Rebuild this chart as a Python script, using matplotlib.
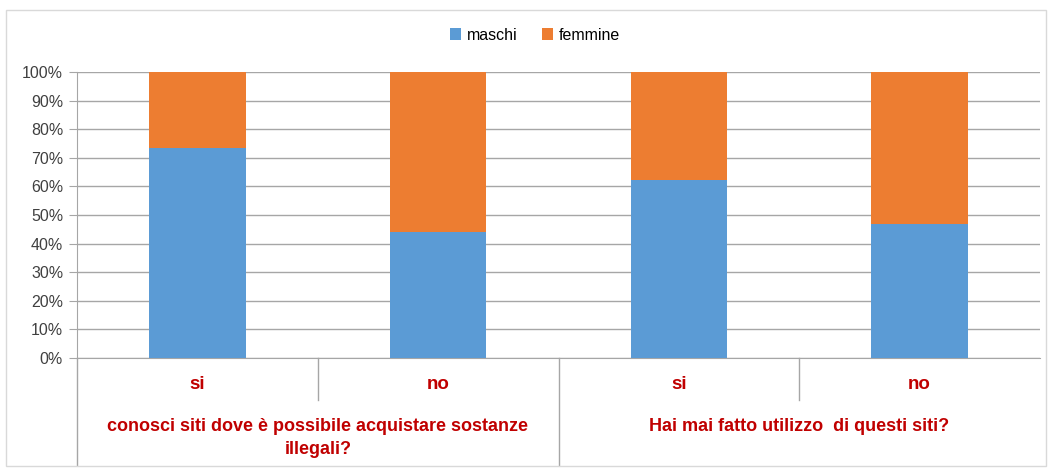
import matplotlib.pyplot as plt
from matplotlib.patches import Rectangle
import numpy as np

categories = ["si", "no", "si", "no"]
groups = ["conosci siti dove è possibile acquistare sostanze\nillegali?",
          "Hai mai fatto utilizzo  di questi siti?"]
maschi = [73.3, 44.1, 62.2, 47.0]
femmine = [100 - v for v in maschi]

plt.rcParams['font.family'] = ['Liberation Sans', 'DejaVu Sans']

blue = "#5B9BD5"
orange = "#ED7D31"
red = "#C00000"
grid_c = "#A6A6A6"

fig = plt.figure(figsize=(10.5, 4.7), dpi=100)
ax = fig.add_axes([77 / 1050, 112 / 470, 963 / 1050, 286 / 470])

x = np.arange(len(categories))
ax.bar(x, maschi, width=0.4, color=blue, label="maschi", zorder=3)
ax.bar(x, femmine, width=0.4, bottom=maschi, color=orange, label="femmine", zorder=3)

ax.set_xlim(-0.5, len(categories) - 0.5)
ax.set_ylim(0, 100)
ax.set_yticks(np.arange(0, 101, 10))
ax.set_yticklabels([f"{v}%" for v in range(0, 101, 10)], fontsize=11.5, color="#404040")
ax.yaxis.grid(True, color=grid_c, lw=1, zorder=0)
ax.tick_params(axis='y', length=6, color=grid_c, pad=4)
ax.set_xticks([])
for s in ["top", "right"]:
    ax.spines[s].set_visible(False)
ax.spines["left"].set_color(grid_c)
ax.spines["bottom"].set_color(grid_c)

# category axis lines and labels below the plot
tr = ax.get_xaxis_transform()
ax.plot([-0.5, -0.5], [0, -0.374], transform=tr, color=grid_c, lw=1, clip_on=False)
ax.plot([1.5, 1.5], [0, -0.374], transform=tr, color=grid_c, lw=1, clip_on=False)
ax.plot([0.5, 0.5], [0, -0.147], transform=tr, color=grid_c, lw=1, clip_on=False)
ax.plot([2.5, 2.5], [0, -0.147], transform=tr, color=grid_c, lw=1, clip_on=False)

for i, c in enumerate(categories):
    ax.text(i, -0.094, c, transform=tr, ha="center", va="center",
            color=red, fontsize=13.5, fontweight="bold")
ax.text(0.5, -0.21, groups[0], transform=tr, ha="center", va="top",
        color=red, fontsize=13, fontweight="bold", linespacing=1.45)
ax.text(2.5, -0.21, groups[1], transform=tr, ha="center", va="top",
        color=red, fontsize=13, fontweight="bold")

ax.legend(loc="center", bbox_to_anchor=(535 / 1050, 1 - 35 / 470),
          bbox_transform=fig.transFigure, ncol=2, frameon=False,
          fontsize=11.5, handlelength=0.7, handleheight=0.7,
          handletextpad=0.4, columnspacing=1.5)

fig.add_artist(Rectangle((6 / 1050, 4 / 470), 1040 / 1050, 456 / 470,
                         transform=fig.transFigure, fill=False,
                         edgecolor="#D9D9D9", lw=1))

fig.savefig("out.png", dpi=100)
